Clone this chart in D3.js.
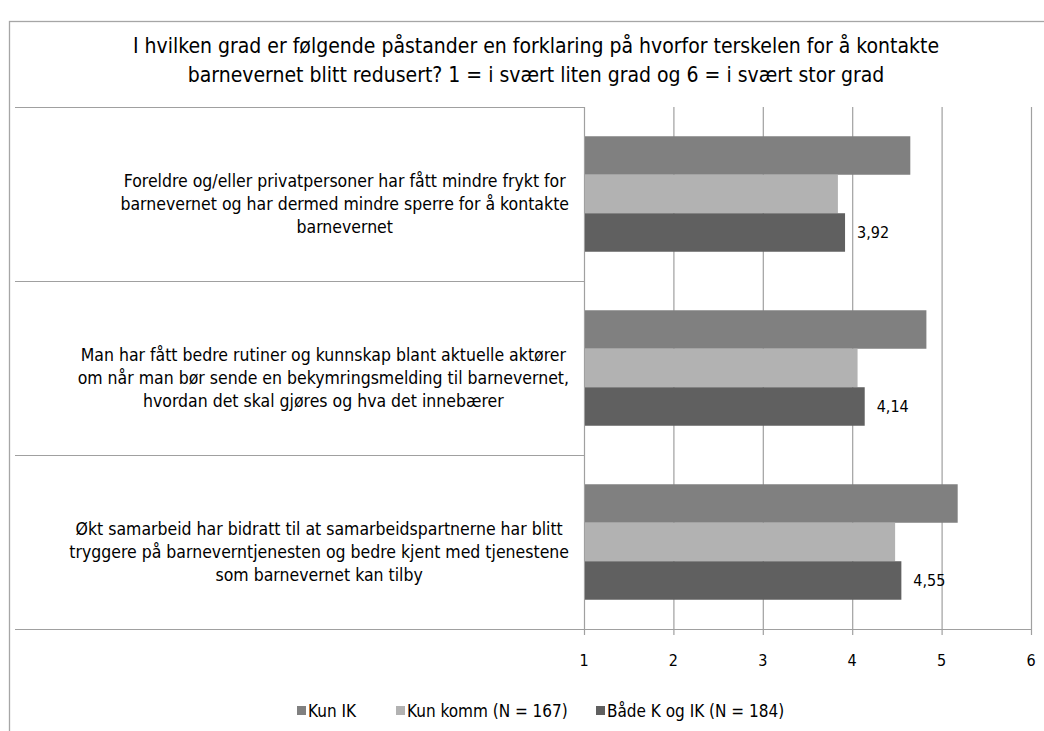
<!DOCTYPE html>
<html><head><meta charset="utf-8">
<script src="https://cdn.jsdelivr.net/npm/d3@7"></script>
<style>
body{margin:0;background:#fff;}
svg{display:block;}
text{font-family:"DejaVu Sans Condensed","Liberation Sans Narrow","Open Sans",sans-serif;fill:#000;}
</style></head>
<body><svg id="chart" width="1044" height="731"></svg>
<script>
const titleLines = ["I hvilken grad er følgende påstander en forklaring på hvorfor terskelen for å kontakte",
                    "barnevernet blitt redusert? 1 = i svært liten grad og 6 = i svært stor grad"];
const categories = [
  ["Foreldre og/eller privatpersoner har fått mindre frykt for","barnevernet og har dermed mindre sperre for å kontakte","barnevernet"],
  ["Man har fått bedre rutiner og kunnskap blant aktuelle aktører","om når man bør sende en bekymringsmelding til barnevernet,","hvordan det skal gjøres og hva det innebærer"],
  ["Økt samarbeid har bidratt til at samarbeidspartnerne har blitt","tryggere på barneverntjenesten og bedre kjent med tjenestene","som barnevernet kan tilby"]
];
const seriesNames = ["Kun IK","Kun komm (N = 167)","Både K og IK (N = 184)"];
const kunIK = [4.65, 4.83, 5.18];
const kunKomm = [3.84, 4.06, 4.48];
const badeKogIK = [3.92, 4.14, 4.55];
const dataLabels = [null, null, ["3,92","4,14","4,55"]];
const xTicks = [1,2,3,4,5,6];
const colors = ["#808080","#b2b2b2","#606060"];

const series = [kunIK, kunKomm, badeKogIK];
const svg = d3.select("#chart");

// frame
svg.append("rect").attr("x",9.5).attr("y",21.5).attr("width",1100).attr("height",800)
  .attr("fill","none").attr("stroke","#a6a6a6").attr("stroke-width",1.3);

// title
svg.append("g").selectAll("text").data(titleLines).join("text")
  .attr("x",536).attr("y",(d,i)=>53+i*29).attr("text-anchor","middle")
  .style("font-size","21px").text(d=>d);

const x = d3.scaleLinear().domain([1,6]).range([584,1031]);
const y = d3.scaleBand().domain(d3.range(categories.length)).range([107,629]).padding(0);
const ys = d3.scaleBand().domain(d3.range(series.length)).range([0,y.bandwidth()]).paddingInner(0).paddingOuter(0.76);

const grid = "#a0a0a0";
// gridlines + ticks
svg.append("g").selectAll("line").data(xTicks).join("line")
  .attr("x1",d=>x(d)+0.5).attr("x2",d=>x(d)+0.5).attr("y1",107).attr("y2",635)
  .attr("stroke",grid).attr("stroke-width",1.2);
// category separators extending into label area
const seps = d3.range(categories.length+1).map(i=> i<categories.length ? y(i) : 629);
svg.append("g").selectAll("line").data(seps).join("line")
  .attr("x1",15).attr("x2",d=>d===629?1031:584).attr("y1",d=>d+0.5).attr("y2",d=>d+0.5)
  .attr("stroke",grid).attr("stroke-width",1.2);

// bars
series.forEach((vals,s)=>{
  svg.append("g").selectAll("rect").data(vals).join("rect")
    .attr("x",x(1)+1).attr("y",(d,i)=>y(i)+ys(s)).attr("height",ys.bandwidth())
    .attr("width",d=>x(d)-x(1)-1).attr("fill",colors[s]);
  if (dataLabels[s]) {
    svg.append("g").selectAll("text").data(vals).join("text")
      .attr("x",d=>x(d)+12).attr("y",(d,i)=>y(i)+ys(s)+ys.bandwidth()/2+6)
      .style("font-size","16px").text((d,i)=>dataLabels[s][i]);
  }
});

// tick labels
svg.append("g").selectAll("text").data(xTicks).join("text")
  .attr("x",d=>x(d)).attr("y",666).attr("text-anchor","middle")
  .style("font-size","16px").text(d=>d);

// category labels
categories.forEach((lines,i)=>{
  const g = svg.append("g");
  const t = g.selectAll("text").data(lines).join("text")
    .attr("y",(d,j)=>y(i)+y.bandwidth()/2 + 10 + (j-(lines.length-1)/2)*23 + 6)
    .attr("text-anchor","middle").style("font-size","17.5px").text(d=>d);
  let maxW = 0; t.each(function(){maxW=Math.max(maxW,this.getComputedTextLength());});
  t.attr("x",569-maxW/2);
});

// legend
const legX = [297, 396, 596];
const leg = svg.append("g");
seriesNames.forEach((n,i)=>{
  leg.append("rect").attr("x",legX[i]).attr("y",706).attr("width",9).attr("height",9).attr("fill",colors[i]);
  leg.append("text").attr("x",legX[i]+11).attr("y",717).style("font-size","17px").text(n);
});
</script></body></html>
